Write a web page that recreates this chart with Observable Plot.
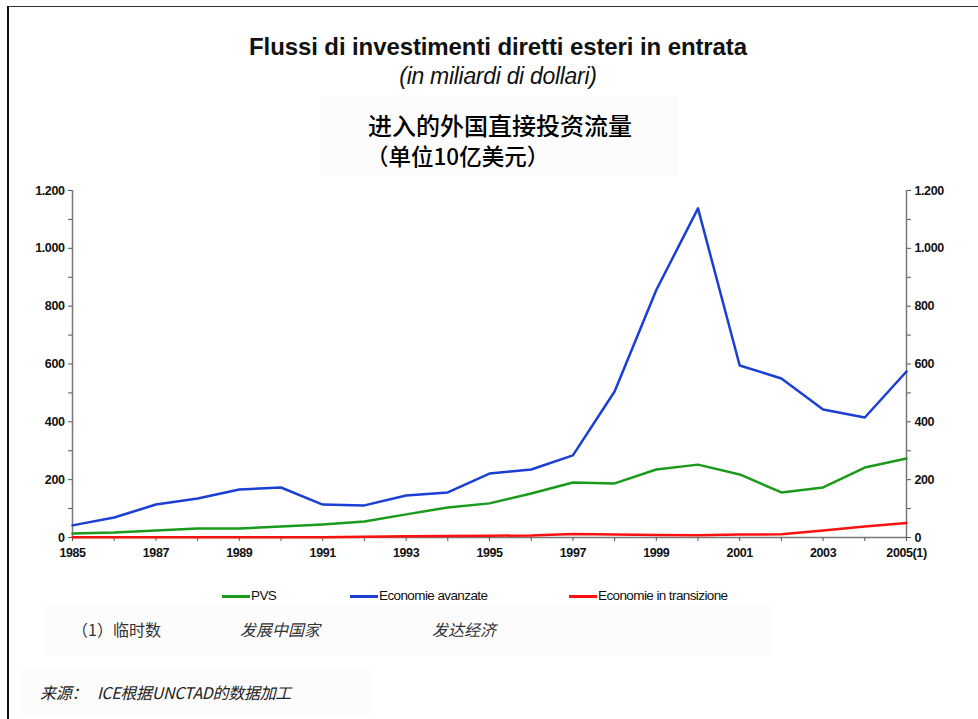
<!DOCTYPE html>
<html>
<head>
<meta charset="utf-8">
<script src="https://cdn.jsdelivr.net/npm/d3@7"></script>
<script src="https://cdn.jsdelivr.net/npm/@observablehq/plot@0.6"></script>
<style>
  html, body { margin: 0; padding: 0; background: #fff; }
  #page { position: relative; width: 978px; height: 719px; overflow: hidden; font-family: "Liberation Sans", Arial, sans-serif; }
  .abs { position: absolute; white-space: nowrap; }
  #chart { position: absolute; left: 0; top: 170px; }
</style>
</head>
<body>
<div id="page">
  <div class="abs" style="left:7px;top:6px;width:980px;height:1px;background:#333"></div>
  <div class="abs" style="left:7px;top:6px;width:1.5px;height:720px;background:#111"></div>

  <div class="abs" style="left:0;width:996px;top:33px;text-align:center;font-weight:bold;font-size:24px;letter-spacing:-0.1px;color:#111">Flussi di investimenti diretti esteri in entrata</div>
  <div class="abs" style="left:0;width:996px;top:63px;text-align:center;font-style:italic;font-size:23px;letter-spacing:-0.3px;color:#111">(in miliardi di dollari)</div>

  <div class="abs" style="left:320px;top:96px;width:358px;height:80px;background:#fcfcfc"></div>
  <div class="abs" style="left:0;width:1000px;top:107px;text-align:center;font-family:'Noto Sans CJK SC';font-size:24px;font-weight:500;color:#000">进入的外国直接投资流量</div>
  <div class="abs" style="left:366px;top:139px;font-family:'Noto Sans CJK SC';font-size:22.5px;font-weight:500;color:#000">（单位10亿美元）</div>

  <div id="chart"></div>

  <div id="legend"></div>

  <div class="abs" style="left:45px;top:604px;width:725px;height:52px;background:#fcfcfc"></div>
  <div id="notes"></div>
  <div class="abs" style="left:22px;top:668px;width:350px;height:48px;background:#fcfcfc"></div>
  <div class="abs" style="left:40px;top:680px;font-family:'Noto Sans CJK SC';font-style:italic;font-size:16px;letter-spacing:-0.3px;color:#222">来源：&nbsp;&nbsp;&nbsp;ICE根据UNCTAD的数据加工</div>
</div>
<script>
const years = [1985,1986,1987,1988,1989,1990,1991,1992,1993,1994,1995,1996,1997,1998,1999,2000,2001,2002,2003,2004,2005];
const pvs = [14,17,24,31,31,38,45,55,80,104,118,152,190,187,235,252,218,156,173,242,273];
const avanzate = [42,69,114,135,166,173,114,111,145,156,221,235,284,505,856,1138,595,550,443,415,574];
const transizione = [1,1,1,1,1,1,1,3,4,5,6,7,12,10,9,8,10,11,24,38,50];

const seriesNames = ["PVS", "Economie avanzate", "Economie in transizione"];
const seriesColors = ["#1a9a1a", "#1b3fd2", "#ff1010"];
const noteTexts = ["（1）临时数", "发展中国家", "发达经济"];
const yTicks = [0,100,200,300,400,500,600,700,800,900,1000,1100,1200];
const xTickLabels = {1985:"1985",1987:"1987",1989:"1989",1991:"1991",1993:"1993",1995:"1995",1997:"1997",1999:"1999",2001:"2001",2003:"2003",2005:"2005(1)"};

const seriesValues = [pvs, avanzate, transizione];
const data = [];
seriesNames.forEach((name, i) => {
  years.forEach((y, j) => data.push({year: y, value: seriesValues[i][j], series: name}));
});

const it = d3.formatLocale({decimal: ",", thousands: ".", grouping: [3], currency: ["", ""]});
const fmt = it.format(",");
const yFmt = d => d % 200 === 0 ? fmt(d) : "";
const xFmt = d => xTickLabels[d] || "";

const chart = Plot.plot({
  width: 978,
  height: 400,
  marginLeft: 72,
  marginRight: 72,
  marginTop: 20,
  marginBottom: 33,
  style: {fontFamily: "'Liberation Sans', Arial, sans-serif", fontSize: "12.5px", fontWeight: "bold", color: "#111", background: "transparent", letterSpacing: "-0.4px"},
  x: {domain: [1985, 2005]},
  y: {domain: [0, 1200]},
  color: {domain: seriesNames, range: seriesColors},
  marks: [
    Plot.ruleX([1985, 2005], {stroke: "#777", strokeWidth: 1.5}),
    Plot.ruleY([0], {stroke: "#777", strokeWidth: 1.5}),
    Plot.axisY({anchor: "left", ticks: yTicks, tickFormat: yFmt, tickSize: 4, tickPadding: 4, label: null, stroke: "#555"}),
    Plot.axisY({anchor: "right", ticks: yTicks, tickFormat: yFmt, tickSize: 4, tickPadding: 4, label: null, stroke: "#555"}),
    Plot.axisX({ticks: years, tickFormat: xFmt, tickSize: 4, tickPadding: 7, label: null, stroke: "#555"}),
    Plot.line(data, {x: "year", y: "value", z: "series", stroke: "series", strokeWidth: 2.5})
  ]
});
document.getElementById("chart").appendChild(chart);

// legend
const legendPos = [222, 350, 569];
const legend = document.getElementById("legend");
seriesNames.forEach((name, i) => {
  const sw = document.createElement("div");
  sw.className = "abs";
  sw.style.cssText = `left:${legendPos[i]}px;top:595px;width:28px;height:3px;background:${seriesColors[i]}`;
  legend.appendChild(sw);
  const t = document.createElement("div");
  t.className = "abs";
  t.style.cssText = `left:${legendPos[i] + 29}px;top:588px;font-size:13.5px;letter-spacing:-0.6px;color:#111`;
  t.textContent = name;
  legend.appendChild(t);
});

// notes
const notePos = [[72, false], [240, true], [432, true]];
const notes = document.getElementById("notes");
noteTexts.forEach((txt, i) => {
  const d = document.createElement("div");
  d.className = "abs";
  d.style.cssText = `left:${notePos[i][0]}px;top:617px;font-family:'Noto Sans CJK SC';font-size:16px;font-weight:400;color:#333;${notePos[i][1] ? "font-style:italic;" : ""}`;
  d.textContent = txt;
  notes.appendChild(d);
});
</script>
</body>
</html>
